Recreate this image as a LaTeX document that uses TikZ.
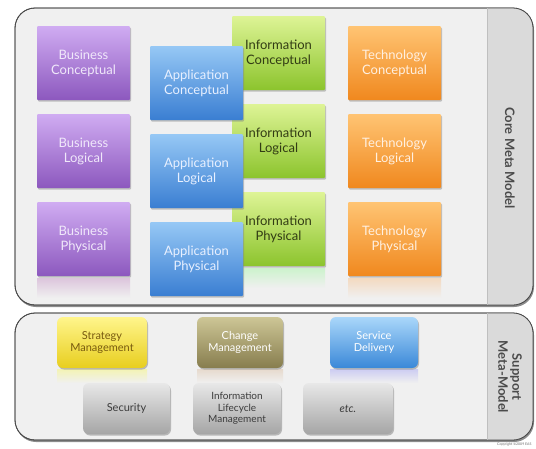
\documentclass[tikz,border=0pt]{standalone}
\usepackage{fontspec}
\setmainfont{Lato}
\usepackage{tikz}
\usetikzlibrary{positioning, shadows}
\usepackage{xcolor}

\definecolor{panelbg}{HTML}{F0F0F0}
\definecolor{stripbg}{HTML}{DADADA}
\definecolor{panelline}{HTML}{4A4A4A}

\tikzset{
  block/.style={rectangle, rounded corners=1pt, minimum width=93pt, minimum height=74pt,
    align=center, font=\fontsize{13}{15}\selectfont, inner sep=2pt,
    drop shadow={shadow xshift=1pt, shadow yshift=-1.5pt, opacity=0.45}},
  busbox/.style={block, top color={rgb,255:red,208;green,172;blue,242}, bottom color={rgb,255:red,140;green,88;blue,190}, text={rgb,255:red,240;green,232;blue,250}},
  appbox/.style={block, top color={rgb,255:red,150;green,200;blue,245}, bottom color={rgb,255:red,58;green,126;blue,210}, text={rgb,255:red,232;green,240;blue,255}},
  infbox/.style={block, top color={rgb,255:red,222;green,244;blue,150}, bottom color={rgb,255:red,140;green,196;blue,45}, text={rgb,255:red,50;green,60;blue,20}},
  techbox/.style={block, top color={rgb,255:red,255;green,196;blue,115}, bottom color={rgb,255:red,240;green,136;blue,30}, text={rgb,255:red,255;green,240;blue,225}},
  supbox/.style={rectangle, rounded corners=6pt, minimum height=51pt, align=center,
    font=\fontsize{11}{12.5}\selectfont, inner sep=2pt,
    drop shadow={shadow xshift=1pt, shadow yshift=-1.5pt, opacity=0.5}},
  stratbox/.style={supbox, minimum width=90pt, top color={rgb,255:red,255;green,245;blue,140}, bottom color={rgb,255:red,232;green,206;blue,30}, text={rgb,255:red,120;green,90;blue,15}},
  changebox/.style={supbox, minimum width=86pt, top color={rgb,255:red,205;green,198;blue,150}, bottom color={rgb,255:red,135;green,125;blue,78}, text=white},
  servbox/.style={supbox, minimum width=88pt, top color={rgb,255:red,170;green,215;blue,250}, bottom color={rgb,255:red,58;green,136;blue,216}, text=white},
  greybox/.style={supbox, minimum width=88pt, top color={rgb,255:red,232;green,232;blue,232}, bottom color={rgb,255:red,165;green,165;blue,165}, text={rgb,255:red,60;green,60;blue,60}},
  panel/.style={fill=panelbg, draw=panelline, line width=0.8pt, rounded corners=20pt},
  sidelabel/.style={rotate=-90, align=center, text={rgb,255:red,75;green,75;blue,75}, font=\fontsize{13}{14}\selectfont\bfseries}
}

\begin{document}
\begin{tikzpicture}[x=1pt, y=-1pt]
\useasboundingbox (0,0) rectangle (536,448);

% core meta model panel
\fill[black!45, rounded corners=20pt] (16,10) rectangle (534,307);
\draw[panel] (15,8) rectangle (533,305);
\begin{scope}
  \clip[rounded corners=20pt] (15,8) rectangle (533,305);
  \fill[stripbg] (487,8) rectangle (533,305);
\end{scope}
\draw[panelline, line width=0.8pt, rounded corners=20pt] (15,8) rectangle (533,305);
\draw[black!25] (487,8) -- (487,305);
\node[sidelabel] (corelbl) at (510,158) {Core Meta Model};

% reflections below the lowest row
\fill[top color=violet!18!panelbg, bottom color=panelbg] (37,278) rectangle (130,298);
\fill[top color=orange!20!panelbg, bottom color=panelbg] (348,278) rectangle (441,298);
\fill[top color=green!15!panelbg, bottom color=panelbg] (232,268) rectangle (325,288);

% information column (behind the application column)
\node[infbox] (infcon) at (278.5,53)  {Information\\Conceptual};
\node[infbox] (inflog) at (278.5,141) {Information\\Logical};
\node[infbox] (infphy) at (278.5,229) {Information\\Physical};

% business column
\node[busbox] (buscon) at (83.5,63)  {Business\\Conceptual};
\node[busbox] (buslog) at (83.5,151) {Business\\Logical};
\node[busbox] (busphy) at (83.5,239) {Business\\Physical};

% application column
\node[appbox] (appcon) at (196.5,83)  {Application\\Conceptual};
\node[appbox] (applog) at (196.5,171) {Application\\Logical};
\node[appbox] (appphy) at (196.5,259) {Application\\Physical};

% technology column
\node[techbox] (techcon) at (394.5,63)  {Technology\\Conceptual};
\node[techbox] (techlog) at (394.5,151) {Technology\\Logical};
\node[techbox] (techphy) at (394.5,239) {Technology\\Physical};

% support meta-model panel
\fill[black!45, rounded corners=20pt] (16,315) rectangle (534,442);
\draw[panel] (15,313) rectangle (533,440);
\begin{scope}
  \clip[rounded corners=20pt] (15,313) rectangle (533,440);
  \fill[stripbg] (487,313) rectangle (533,440);
\end{scope}
\draw[panelline, line width=0.8pt, rounded corners=20pt] (15,313) rectangle (533,440);
\draw[black!25] (487,313) -- (487,440);
\node[sidelabel] (suplbl) at (510,377) {Support\\Meta-Model};

% reflections below the first support row
\fill[top color=yellow!25!panelbg, bottom color=panelbg] (57,369) rectangle (147,383);
\fill[top color=brown!20!panelbg, bottom color=panelbg] (197,369) rectangle (283,383);
\fill[top color=blue!15!panelbg, bottom color=panelbg] (330,369) rectangle (418,383);

\node[stratbox]  (strat)  at (102,342.5) {Strategy\\Management};
\node[changebox] (change) at (240,342.5) {Change\\Management};
\node[servbox]   (serv)   at (374,342.5) {Service\\Delivery};

\node[greybox, minimum width=87pt] (secur) at (126.5,408.5) {Security};
\node[greybox, font=\fontsize{10}{11.5}\selectfont] (ilm) at (237,408.5) {Information\\Lifecycle\\Management};
\node[greybox, minimum width=90pt] (etc) at (348,408.5) {\itshape etc.};

\node[font=\fontsize{3.5}{4}\selectfont, text=black!60, anchor=east] (copy) at (535,445) {Copyright ©2009 EAS};
\end{tikzpicture}
\end{document}
